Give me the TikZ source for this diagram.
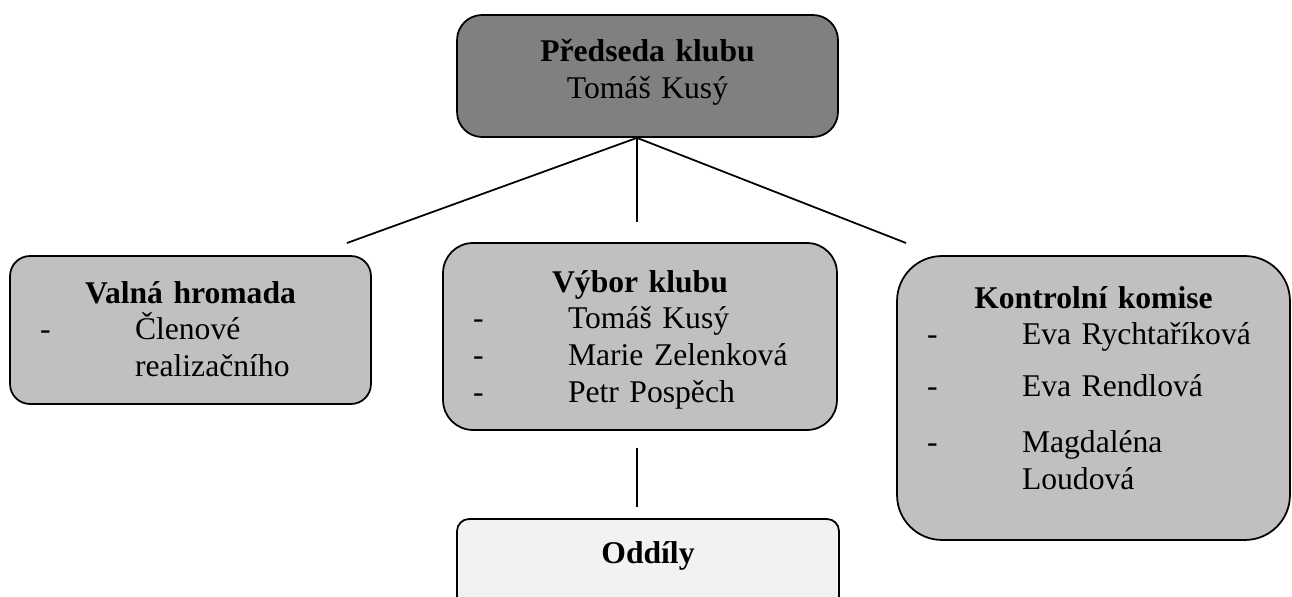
\documentclass[tikz,border=0pt]{standalone}
\usepackage{fontspec}
\setmainfont{Liberation Serif}
\usepackage{tikz}
\definecolor{chead}{RGB}{128,128,128}
\definecolor{cunit}{RGB}{192,192,192}
\definecolor{csect}{RGB}{242,242,242}
\newcommand{\memberline}[1]{\makebox[\linewidth][l]{\makebox[1.9cm][l]{-}#1}}
\newcommand{\wrapline}[1]{\makebox[\linewidth][l]{\hspace*{1.9cm}#1}}

\begin{document}
\begin{tikzpicture}[x=0.02cm, y=-0.02cm, line width=1pt,
  orgbox/.style={draw, align=center, inner xsep=0.6cm, inner ysep=0pt,
                 text height=0.46cm, font=\fontsize{18}{21}\selectfont}]
  \useasboundingbox (0,0) rectangle (1292,597);
  \clip (0,0) rectangle (1292,597);
  \node[orgbox, fill=chead, rounded corners=0.5cm, text width=6.42cm,
        minimum height=2.44cm, text depth=1.02cm] (chair) at (647.5,76)
       {\textbf{Předseda klubu}\\Tomáš Kusý};
  \node[orgbox, fill=cunit, rounded corners=0.4cm, text width=6.02cm,
        minimum height=2.96cm, text depth=1.54cm] (assembly) at (190.5,330)
       {\textbf{Valná hromada}\\
        \memberline{Členové}\\
        \wrapline{realizačního}};
  \node[orgbox, fill=cunit, rounded corners=0.6cm, text width=6.68cm,
        minimum height=3.74cm, text depth=2.24cm] (board) at (640,336.5)
       {\textbf{Výbor klubu}\\
        \memberline{Tomáš Kusý}\\
        \memberline{Marie Zelenková}\\
        \memberline{Petr Pospěch}};
  \node[orgbox, fill=cunit, rounded corners=0.9cm, text width=6.66cm,
        minimum height=5.68cm, text depth=4.06cm] (audit) at (1093.5,398)
       {\textbf{Kontrolní komise}\\
        \memberline{Eva Rychtaříková}\\[0.3cm]
        \memberline{Eva Rendlová}\\[0.38cm]
        \memberline{Magdaléna}\\
        \wrapline{Loudová}};
  \node[orgbox, fill=csect, rounded corners=0.24cm, text width=6.44cm,
        minimum height=2.2cm, text depth=0.9cm] (sections) at (648,574)
       {\textbf{Oddíly}};
  % loose ends of the connectors
  \coordinate (lend) at (347,243);
  \coordinate (mend) at (637,222);
  \coordinate (rend) at (906,243);
  \coordinate (dtop) at (637,448);
  \coordinate (dbot) at (637,507);
  \draw (chair.south -| mend) -- (lend);
  \draw (chair.south -| mend) -- (mend);
  \draw (chair.south -| mend) -- (rend);
  \draw (dtop) -- (dbot);
\end{tikzpicture}
\end{document}
